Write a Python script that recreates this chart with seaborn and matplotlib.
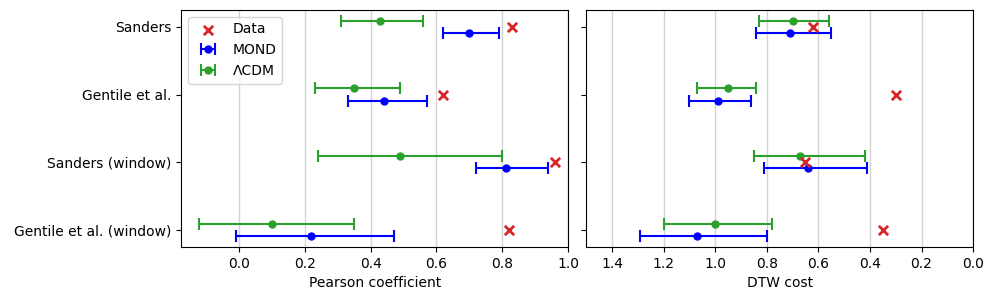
import numpy as np
import pandas as pd
import seaborn as sns
import matplotlib.pyplot as plt

datasets = ["Sanders", "Gentile et al.", "Sanders (window)", "Gentile et al. (window)"]

# Pearson coefficient
pearson_data = [0.83, 0.62, 0.96, 0.82]
pearson_mond = [0.70, 0.44, 0.81, 0.22]
pearson_mond_lo = [0.62, 0.33, 0.72, -0.01]
pearson_mond_hi = [0.79, 0.57, 0.94, 0.47]
pearson_lcdm = [0.43, 0.35, 0.49, 0.10]
pearson_lcdm_lo = [0.31, 0.23, 0.24, -0.12]
pearson_lcdm_hi = [0.56, 0.49, 0.80, 0.35]

# DTW cost
dtw_data = [0.62, 0.30, 0.65, 0.35]
dtw_mond = [0.71, 0.99, 0.64, 1.07]
dtw_mond_lo = [0.55, 0.86, 0.41, 0.80]
dtw_mond_hi = [0.84, 1.10, 0.81, 1.29]
dtw_lcdm = [0.70, 0.95, 0.67, 1.00]
dtw_lcdm_lo = [0.56, 0.84, 0.42, 0.78]
dtw_lcdm_hi = [0.83, 1.07, 0.85, 1.20]

OFFSET = 0.09


def draw_panel(ax, data, mond, mond_lo, mond_hi, lcdm, lcdm_lo, lcdm_hi):
    y = np.arange(len(datasets))
    df = pd.DataFrame({"value": data, "y": y})
    sns.scatterplot(data=df, x="value", y="y", marker="x", color="tab:red",
                    s=45, linewidth=2, ax=ax, label="Data", zorder=4)
    mond = np.array(mond)
    lcdm = np.array(lcdm)
    ax.errorbar(mond, y + OFFSET,
                xerr=[mond - np.array(mond_lo), np.array(mond_hi) - mond],
                fmt="o", color="blue", ms=5, capsize=4, elinewidth=1.5,
                capthick=1.5, label="MOND", zorder=3)
    ax.errorbar(lcdm, y - OFFSET,
                xerr=[lcdm - np.array(lcdm_lo), np.array(lcdm_hi) - lcdm],
                fmt="o", color="tab:green", ms=5, capsize=4, elinewidth=1.5,
                capthick=1.5, label="ΛCDM", zorder=3)
    ax.grid(axis="x", color="lightgrey", linewidth=1)
    ax.set_axisbelow(True)
    ax.set_ylabel("")


fig, (ax1, ax2) = plt.subplots(1, 2, sharey=True, figsize=(9.96, 3.0), dpi=100)
fig.subplots_adjust(left=0.182, right=0.977, top=0.967, bottom=0.177, wspace=0.047)

draw_panel(ax1, pearson_data, pearson_mond, pearson_mond_lo, pearson_mond_hi,
           pearson_lcdm, pearson_lcdm_lo, pearson_lcdm_hi)
draw_panel(ax2, dtw_data, dtw_mond, dtw_mond_lo, dtw_mond_hi,
           dtw_lcdm, dtw_lcdm_lo, dtw_lcdm_hi)

ax1.set_yticks(np.arange(len(datasets)))
ax1.set_yticklabels(datasets)
ax1.set_ylim(3.25, -0.25)
ax1.set_xlim(-0.175, 1.0)
ax1.set_xlabel("Pearson coefficient")
ax1.legend(loc="upper left")

ax2.set_xlim(1.5, 0.0)
ax2.set_xticks([1.4, 1.2, 1.0, 0.8, 0.6, 0.4, 0.2, 0.0])
ax2.set_xlabel("DTW cost")
ax2.tick_params(axis="y", labelleft=False)
leg2 = ax2.get_legend()
if leg2 is not None:
    leg2.remove()

fig.savefig("out.png")
